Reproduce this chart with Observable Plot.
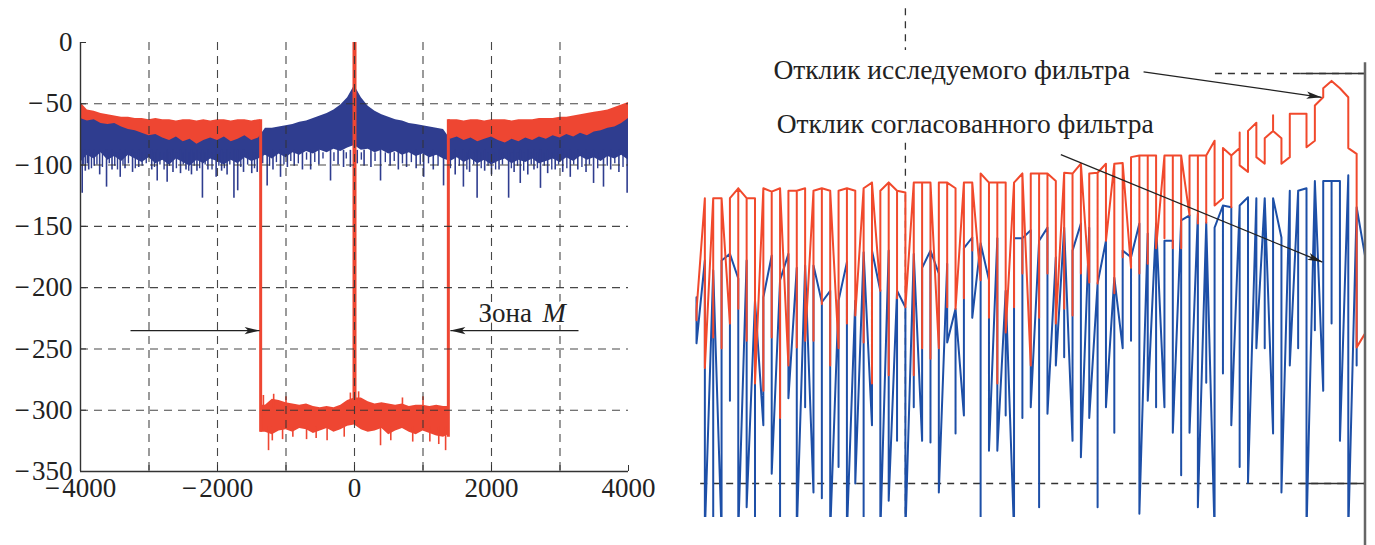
<!DOCTYPE html>
<html><head><meta charset="utf-8">
<script src="https://cdn.jsdelivr.net/npm/d3@7"></script>
<script src="https://cdn.jsdelivr.net/npm/@observablehq/plot@0.6"></script>
<style>
body{margin:0;background:#fff;}
#wrap{position:relative;width:1375px;height:545px;overflow:hidden;background:#fff;}
#left{position:absolute;left:0;top:0;width:660px;height:545px;}
#right{position:absolute;left:680px;top:0;width:695px;height:545px;}
svg{overflow:hidden;}
</style></head><body><div id="wrap"><div id="left"></div><div id="right"></div></div>
<script>
// ---------- Left panel: spectrum, dB vs frequency ----------
const xTickMarks = [-4000,-3000,-2000,-1000,0,1000,2000,3000,4000];
const xLabels = [-4000,-2000,0,2000,4000];
const xGrid = [-3000,-2000,-1000,0,1000,2000,3000];
const yTicks = [0,-50,-100,-150,-200,-250,-300,-350];
const yGrid = [-50,-100,-150,-200,-250,-300];

// blue (matched filter) spectrum envelope, bins every 100 from -4000 to 4000
const blueBins = d3.range(-4000, 4001, 100);
const blueTop = [-62,-64,-63,-66,-67,-66,-69,-71,-72,-74,-76,-75,-78,-80,-77,-81,-79,-83,-80,-78,
  -80,-77,-81,-79,-76,-80,-78,-70,-70,-69,-68,-67,-65,-64,-62,-60,-58,-55,-51,-45,
  -35,
  -45,-52,-56,-59,-61,-63,-64,-66,-67,-68,-69,-70,-71,-79,-77,-80,-78,-81,-79,
  -77,-80,-82,-79,-81,-78,-80,-77,-79,-76,-78,-75,-77,-74,-76,-73,-72,-70,-69,-66,-62];
const blueBottom = [-98,-92,-95,-90,-96,-93,-97,-92,-95,-98,-94,-99,-96,-100,-95,-98,-101,-96,-99,-95,
  -97,-100,-96,-99,-94,-97,-95,-92,-95,-91,-94,-90,-92,-89,-91,-88,-90,-87,-89,-86,
  -84,
  -88,-87,-90,-88,-91,-89,-92,-90,-93,-91,-94,-92,-95,-97,-94,-98,-95,-99,-96,-100,
  -97,-95,-99,-96,-98,-95,-99,-97,-95,-98,-94,-97,-93,-96,-94,-97,-93,-95,-92,-96];
const blueSpikes = [[-3975,-123],[-3930,-105],[-3880,-104],[-3800,-101],[-3720,-108],[-3620,-118],[-3540,-104],
  [-3420,-110],[-3350,-103],[-3240,-106],[-3150,-102],[-2960,-104],[-2880,-113],[-2735,-114],[-2650,-106],
  [-2540,-107],[-2460,-104],[-2380,-108],[-2300,-105],[-2220,-127],[-2140,-104],[-2020,-110],[-1940,-105],
  [-1860,-108],[-1760,-127],[-1705,-121],[-1620,-106],[-1500,-107],[-1420,-106],[-1275,-117],[-1190,-104],
  [-1080,-110],[-980,-102],[-880,-101],[-760,-104],[-640,-104],[-520,-100],[-350,-113],[-240,-100],
  [-160,-102],[-60,-102],[40,-99],[140,-101],[240,-102],[380,-113],[520,-101],[640,-104],[760,-102],
  [900,-103],[1010,-110],[1150,-104],[1300,-117],[1470,-108],[1590,-118],[1680,-106],[1790,-127],
  [1900,-105],[2000,-108],[2110,-104],[2250,-127],[2330,-106],[2420,-115],[2530,-108],[2620,-104],
  [2715,-119],[2820,-107],[2930,-104],[3040,-106],[3150,-110],[3260,-104],[3380,-106],[3490,-115],
  [3635,-118],[3740,-104],[3860,-106],[3980,-123]];
const blueMinorSpikes = [[-3960,-100],[-3900,-99],[-3840,-103],[-3760,-100],[-3680,-102],[-3580,-99],[-3500,-101],
  [-3460,-104],[-3380,-100],[-3300,-99],[-3200,-103],[-3100,-101],[-3040,-99],[-2920,-102],[-2840,-100],
  [-2780,-104],[-2700,-101],[-2600,-103],[-2500,-100],[-2420,-105],[-2340,-101],[-2260,-103],[-2180,-100],
  [-2080,-104],[-1980,-101],[-1900,-103],[-1820,-100],[-1660,-102],[-1560,-100],[-1460,-103],[-1340,-99],
  [-1240,-101],[-1140,-98],[-1030,-100],[-930,-97],[-820,-99],[-700,-96],[-580,-98],[-460,-95],[-300,-97],
  [-120,-95],[100,-96],[300,-97],[450,-98],[580,-97],[700,-99],[830,-98],[960,-100],[1080,-99],[1220,-101],
  [1400,-103],[1530,-101],[1640,-104],[1740,-100],[1850,-103],[1950,-101],[2060,-104],[2160,-100],[2290,-103],
  [2380,-101],[2470,-105],[2580,-100],[2670,-103],[2770,-101],[2880,-104],[2980,-100],[3100,-103],[3200,-100],
  [3320,-102],[3430,-100],[3550,-103],[3690,-101],[3800,-99],[3920,-102]];

// red (studied filter) spectrum: outer bands and zone M floor
const redLeftBins = d3.range(-4000, -1399, 100).concat([-1370]);
const redLeftTop = [-49,-55,-56,-58,-59,-60,-61,-61,-62,-62,-63,-62,-63,-63,-64,-63,-63,-64,-63,-64,-63,-63,-64,-63,-63,-64,-63,-63];
const redLeftBottom = [-82,-72,-73,-75,-77,-79,-80,-81,-83,-85,-87,-89,-88,-90,-87,-85,-89,-91,-87,-85,-87,-89,-85,-83,-85,-87,-83,-82];
const redRightBins = [1370].concat(d3.range(1400, 4001, 100));
const redRightTop = [-63,-63,-63,-64,-63,-63,-64,-63,-63,-63,-64,-63,-63,-63,-62,-62,-62,-61,-61,-60,-59,-58,-57,-56,-55,-53,-51,-49];
const redRightBottom = [-82,-80,-84,-86,-88,-85,-84,-88,-90,-86,-84,-86,-88,-84,-82,-84,-86,-82,-80,-82,-80,-78,-76,-74,-72,-70,-68,-80];
const redInnerBins = [-1370].concat(d3.range(-1300, 1301, 100), [1370]);
const redInnerTop = [-296,-296,-291,-292,-294,-295,-296,-295,-297,-298,-297,-298,-296,-292,-290,-290,-293,-295,-294,-295,-296,-295,-297,-296,-296,-297,-296,-297,-297];
const redInnerBottom = [-318,-318,-320,-317,-316,-318,-315,-316,-319,-317,-315,-318,-316,-313,-312,-316,-318,-317,-315,-320,-317,-315,-318,-320,-317,-319,-321,-322,-320];
const redSpikesDown = [[-1255,-333],[-1200,-325],[-1050,-324],[-900,-322],[-700,-324],[-560,-323],[-400,-325],[-150,-322],[380,-329],[530,-325],[850,-326],[1100,-326],[1230,-328],[1330,-333]];
const redSpikesUp = [[-1330,-288],[-1180,-287],[-1000,-289],[-60,-286],[60,-285],[700,-290],[1000,-289]];
const redEdges = [{x:-1370, top:-63, bottom:-318},{x:1370, top:-63, bottom:-322}];
const redPeak = [{x:0, top:0, bottom:-300}];

const zoneArrows = [{x1:-3270, y1:-235, x2:-1385, y2:-235},{x1:3270, y1:-235, x2:1400, y2:-235}];
const zoneLabel = [{t:"Зона", x:1810, y:-221}];
const zoneLabelM = [{t:"M", x:2745, y:-221}];

// ---------- Right panel: zoom of the upper-right part ----------
// each column: the two extremes (dB); drawing order given by the order strings
// D = top then bottom, U = bottom then top, V = top, bottom, back to top, S = as listed
const redCols = [
[-80.1,-78.9],[-65.2,-85.9],[-82.2,-65.2],[-65.2,-83.5],[-80.5,-65.2],[-64.0,-78.7],[-82.6,-65.2],[-65.2,-87.8],[-88.7,-64.0],[-64.4,-82.2],
[-92.0,-64.0],[-64.3,-85.6],[-83.4,-64.3],[-64.0,-82.6],[-82.6,-64.3],[-64.0,-78.1],[-85.6,-64.3],[-64.3,-83.5],[-80.5,-64.0],[-64.3,-79.5],
[-82.8,-64.0],[-63.3,-87.8],[-76.5,-64.3],[-63.3,-86.8],[-77.4,-64.3],[-64.5,-78.5],[-86.8,-63.3],[-63.3,-83.5],[-84.8,-63.3],[-63.3,-83.5],
[-78.5,-63.3],[-64.0,-78.7],[-77.4,-63.3],[-63.3,-71.6],[-75.2,-62.2],[-63.3,-79.8],[-87.8,-63.3],[-63.3,-81.6],[-78.5,-63.3],[-62.2,-74.4],
[-85.6,-62.2],[-62.2,-79.8],[-74.4,-62.2],[-63.1,-80.5],[-78.7,-62.1],[-62.2,-79.5],[-74.4,-61.0],[-62.2,-75.5],[-75.6,-62.1],[-61.0,-70.4],
[-76.8,-61.0],[-60.9,-72.4],[-73.7,-60.2],[-60.0,-74.4],[-73.2,-60.0],[-60.0,-71.3],[-70.1,-60.0],[-60.0,-71.3],[-71.3,-60.0],[-60.0,-67.3],
[-68.3,-60.0],[-60.0,-68.2],[-58.2,-66.1],[-65.2,-59.1],[-60.0,-66.3,-60.0],[-59.1,-57.2,-61.2],[-62.0,-57.0],[-56.0,-60.2],[-61.0,-57.9],[-57.0,-55.1,-57.0],
[-57.9,-61.0],[-60.2,-54.9],[-54.9],[-54.9,-59.0],[-58.2,-53.9],[-52.9,-51.8],[-50.9],[-51.8],[-52.9,-59.1],[-59.8,-83.4],
[-81.7]];
const redOrder = "VDVVUVVDVV" + "VUVDVVVUVD" + "VVUVVDVVVU" + "VDVVUVVDVV" + "UVVDVVVUVD" + "VVUVVDVVVU" + "VV";
const blueCols = [
[-82.9,-77.3],[-72.8,-106],[-106,-74.0],[-72.8,-106],[-89.9,-72.0],[-75.0,-106],[-102.9,-72.8],[-77.7,-106],[-92.9,-77.3],[-72.2,-98.8],
[-106,-75.2],[-72.0,-89.6],[-106,-73.7],[-73.4,-90.7],[-101.1,-73.4],[-77.9,-101.8],[-106,-76.5],[-77.7,-98.0],[-106,-73.0],[-77.7,-100.0],
[-106,-71.8],[-71.6,-92.9],[-106,-76.5],[-71.6,-102.1],[-94.8,-76.5],[-78.5,-106],[-90.7,-72.0],[-73.7,-94.8],[-95.0,-71.6],[-74.4,-101.1],
[-82.8,-73.2],[-78.7,-93.9],[-91.7,-71.3],[-70.0,-79.8],[-106,-70.7],[-75.2,-96.0],[-96.0,-70.1],[-76.5,-91.7],[-106,-70.1],[-70.1,-92.0],
[-90.7,-69.1],[-70.4,-102.9],[-91.5,-68.8],[-72.4,-85.6],[-84.6,-68.8],[-71.6,-94.8],[-96.8,-68.3],[-68.8,-92.0],[-102.9,-75.6],[-70.4,-90.7],
[-93.8,-74.9],[-71.6,-83.5],[-82.6,-72.4],[-68.3,-103.7],[-89.9,-69.5],[-68.3,-90.7],[-90.7,-70.4],[-70.4,-93.8],[-99.0,-67.9],[-67.3,-93.8],
[-102.9,-67.1],[-68.2,-87.7],[-106,-68.8],[-66.1,-86.6],[-92.9,-66.3],[-66.1,-98.0],[-99.9,-65.1],[-65.2,-83.5],[-83.5,-65.2],[-65.2,-93.9],
[-101.1,-70.0],[-64.3,-85.6],[-83.5,-64.3],[-64.0,-106],[-81.3,-63.1],[-63.1,-88.7],[-80.5,-63.1],[-63.1,-94.8],[-106,-62.4],[-66.3,-85.6],
[-72.2]];
const blueOrder = "DDVUVDDVUD" + "VDDVUVDVDD" + "VUDDVDVUVD" + "DVUDVDDVUV" + "DVDDVUDDVD" + "VUVDDVUDVD" + "DVUVDVDDVU" + "DDVDVUVDDV";
const zoomGridIndex = 25;
const zoomGridSegs = [{from:-42.1, to:-47.2},{from:-58.5, to:-104.1}];
const zoomHLines = [{v:-50, from:62.1},{v:-100, from:0.5}];
const zoomTickFrom = 72.3;
const zoomEdge = 80;
const zoomLabels = [{t:"Отклик исследуемого фильтра", x:9.2, y:-49.6},{t:"Отклик согласованного фильтра", x:9.6, y:-56.2}];
const zoomArrows = [{x1:53.5, y1:-49.8, x2:74.8, y2:-52.9},{x1:43.6, y1:-59.9, x2:74.9, y2:-73.0}];

// ---------- styles ----------
const NAVY = "#2f3d8f", RED = "#ee4632", BLUE2 = "#1d4fa7", RED2 = "#f1492c", INK = "#222";
const FONT = "'Liberation Serif', 'DejaVu Serif', serif";
const fmt = d => d < 0 ? "\u2212\u200A" + Math.abs(d) : String(d);
const arrowHead = {draw(ctx){ctx.moveTo(0,0);ctx.lineTo(-15,-3.6);ctx.lineTo(-11.5,0);ctx.lineTo(-15,3.6);ctx.closePath();}};

const L = {width:660, height:545, ml:80, mr:32, mt:42, mb:74};
const sxL = d3.scaleLinear([-4000,4000],[L.ml, L.width-L.mr]);
const syL = d3.scaleLinear([-350,0],[L.height-L.mb, L.mt]);
const angL = d => Math.atan2(syL(d.y2)-syL(d.y1), sxL(d.x2)-sxL(d.x1))*180/Math.PI;

const blueData = blueBins.map((x,i)=>({x, hi:blueTop[i], lo:blueBottom[i]}));
const redLeft = redLeftBins.map((x,i)=>({x, hi:redLeftTop[i], lo:redLeftBottom[i]}));
const redRight = redRightBins.map((x,i)=>({x, hi:redRightTop[i], lo:redRightBottom[i]}));
const redInner = redInnerBins.map((x,i)=>({x, hi:redInnerTop[i], lo:redInnerBottom[i]}));
const gridStyle = {stroke:"#333", strokeOpacity:0.9, strokeWidth:1.1, strokeDasharray:"8,6"};

const left = Plot.plot({
  width:L.width, height:L.height, marginLeft:L.ml, marginRight:L.mr, marginTop:L.mt, marginBottom:L.mb,
  style:{fontFamily:FONT, fontSize:"27px", background:"transparent", color:INK},
  x:{domain:[-4000,4000], axis:null},
  y:{domain:[-350,0], axis:null},
  marks:[
    Plot.areaY(redLeft, {x:"x", y1:"lo", y2:"hi", fill:RED}),
    Plot.areaY(redRight, {x:"x", y1:"lo", y2:"hi", fill:RED}),
    Plot.areaY(blueData, {x:"x", y1:"lo", y2:"hi", fill:NAVY}),
    Plot.ruleX(blueMinorSpikes, {x:d=>d[0], y1:-90, y2:d=>d[1], stroke:NAVY, strokeWidth:1.4}),
    Plot.ruleX(blueSpikes, {x:d=>d[0], y1:-88, y2:d=>d[1], stroke:NAVY, strokeWidth:1.6}),
    Plot.areaY(redInner, {x:"x", y1:"lo", y2:"hi", fill:RED}),
    Plot.ruleX(redSpikesDown, {x:d=>d[0], y1:-314, y2:d=>d[1], stroke:RED, strokeWidth:1.6}),
    Plot.ruleX(redSpikesUp, {x:d=>d[0], y1:-298, y2:d=>d[1], stroke:RED, strokeWidth:1.6}),
    Plot.ruleX(redEdges, {x:"x", y1:"bottom", y2:"top", stroke:RED, strokeWidth:3}),
    Plot.ruleX(redPeak, {x:"x", y1:"bottom", y2:"top", stroke:RED, strokeWidth:4}),
    Plot.gridX(xGrid, gridStyle),
    Plot.gridY(yGrid, gridStyle),
    Plot.ruleX([-4000], {stroke:"#333", strokeWidth:1.4}),
    Plot.ruleY([-350], {stroke:"#333", strokeWidth:1.4}),
    Plot.axisY(yTicks, {tickSize:-6, fill:"none", stroke:"#333", label:null}),
    Plot.axisY(yTicks, {tickSize:0, tickPadding:8, tickFormat:fmt, fill:INK, fontSize:27, label:null}),
    Plot.axisX(xTickMarks, {tickSize:-6, fill:"none", stroke:"#333", label:null}),
    Plot.axisX(xLabels, {tickSize:0, tickPadding:6, tickFormat:fmt, fill:INK, fontSize:27, label:null}),
    Plot.link(zoneArrows, {x1:"x1", y1:"y1", x2:"x2", y2:"y2", stroke:INK, strokeWidth:1.3}),
    Plot.dot(zoneArrows, {x:"x2", y:"y2", symbol:arrowHead, rotate:angL, fill:INK, stroke:"none"}),
    Plot.text(zoneLabel, {x:"x", y:"y", text:"t", textAnchor:"start", fontSize:27, fill:INK, stroke:"white", strokeWidth:6, paintOrder:"stroke"}),
    Plot.text(zoneLabelM, {x:"x", y:"y", text:"t", textAnchor:"start", fontSize:28, fontStyle:"italic", fill:INK, stroke:"white", strokeWidth:6, paintOrder:"stroke"})
  ]
});
document.getElementById("left").appendChild(left);

// ---------- right panel ----------
const R = {width:695, height:545};
const xR = {domain:[0,80], range:[16,684.5]};
const yR = {domain:[-50,-100], range:[73,483]};
const sxR = d3.scaleLinear(xR.domain, xR.range), syR = d3.scaleLinear(yR.domain, yR.range);
const angR = d => Math.atan2(syR(d.y2)-syR(d.y1), sxR(d.x2)-sxR(d.x1))*180/Math.PI;
function orderCol(vals, code) {
  if (!code || code === "S" || vals.length !== 2) return vals;
  const top = Math.max(...vals), bot = Math.min(...vals);
  if (code === "D") return [top, bot];
  if (code === "U") return [bot, top];
  return [top, bot, top];
}
const redPts = redCols.flatMap((vals,i)=>orderCol(vals, redOrder[i]).map(v=>({i, v})));
const bluePts = blueCols.flatMap((vals,i)=>orderCol(vals, blueOrder[i]).map(v=>({i, v})));

const right = Plot.plot({
  width:R.width, height:R.height, marginLeft:10, marginRight:10, marginTop:0, marginBottom:28,
  style:{fontFamily:FONT, fontSize:"27.5px", background:"transparent", color:INK},
  x:{...xR, axis:null},
  y:{...yR, axis:null},
  marks:[
    Plot.ruleX(zoomGridSegs, {x:zoomGridIndex, y1:"from", y2:"to", stroke:"#333", strokeWidth:1.3, strokeDasharray:"7,6"}),
    Plot.ruleY(zoomHLines, {y:"v", x1:"from", x2:zoomEdge, stroke:"#333", strokeWidth:1.3, strokeDasharray:"7,6"}),
    Plot.ruleY(zoomHLines, {y:"v", x1:zoomTickFrom, x2:zoomEdge, stroke:"#333", strokeWidth:1.5}),
    Plot.line(bluePts, {x:"i", y:"v", stroke:BLUE2, strokeWidth:2, clip:true}),
    Plot.line(redPts, {x:"i", y:"v", stroke:RED2, strokeWidth:2, clip:true}),
    Plot.ruleX([zoomEdge], {y1:-48.7, y2:-108, stroke:"#666", strokeWidth:2.5}),
    Plot.link(zoomArrows, {x1:"x1", y1:"y1", x2:"x2", y2:"y2", stroke:INK, strokeWidth:1.3}),
    Plot.dot(zoomArrows, {x:"x2", y:"y2", symbol:arrowHead, rotate:angR, fill:INK, stroke:"none"}),
    Plot.text(zoomLabels, {x:"x", y:"y", text:"t", textAnchor:"start", fontSize:27.5, fill:INK})
  ]
});
document.getElementById("right").appendChild(right);
</script>
</body></html>
